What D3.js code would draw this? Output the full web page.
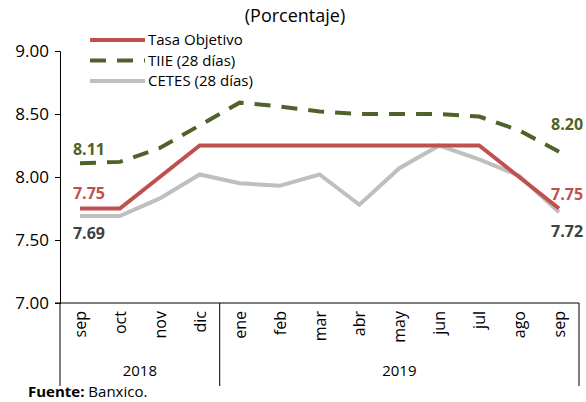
<!DOCTYPE html>
<html>
<head>
<meta charset="utf-8">
<script src="https://cdn.jsdelivr.net/npm/d3@7"></script>
<style>
  body { margin: 0; background: #fff; }
  text { font-family: "Open Sans", "Liberation Sans", Arial, sans-serif; }
</style>
</head>
<body>
<div id="chart"></div>
<script>
var months = ["sep","oct","nov","dic","ene","feb","mar","abr","may","jun","jul","ago","sep"];
var years = [{label: "2018", from: 0, to: 4}, {label: "2019", from: 4, to: 13}];
var tasaObjetivo = [7.75,7.75,8.00,8.25,8.25,8.25,8.25,8.25,8.25,8.25,8.25,8.00,7.75];
var tiie = [8.11,8.12,8.23,8.41,8.59,8.56,8.52,8.50,8.50,8.50,8.48,8.37,8.20];
var cetes = [7.69,7.69,7.83,8.02,7.95,7.93,8.02,7.78,8.07,8.25,8.14,8.01,7.72];
var yTicks = [7.00,7.50,8.00,8.50,9.00];

var width = 586, height = 402;
var svg = d3.select("#chart").append("svg")
  .attr("width", width).attr("height", height);

var x = d3.scaleBand().domain(d3.range(months.length)).range([60, 579]);
var y = d3.scaleLinear().domain([7, 9]).range([303, 51]);
var cx = function(i) { return x(i) + x.bandwidth() / 2; };

// title
svg.append("text").attr("x", 295).attr("y", 22).attr("text-anchor", "middle")
  .style("font-size", "18px").text("(Porcentaje)");

// y axis
var yAxis = svg.append("g").attr("transform", "translate(60,0)")
  .call(d3.axisLeft(y).tickValues(yTicks).tickFormat(d3.format(".2f")).tickSize(5));
yAxis.select(".domain").attr("stroke", "#000");
yAxis.selectAll("text").style("font-size", "17px").attr("fill", "#000")
  .attr("font-family", "Open Sans, Liberation Sans, Arial, sans-serif").attr("x", -11);

// x axis line
svg.append("line").attr("x1", 55).attr("x2", 579).attr("y1", y(7)).attr("y2", y(7))
  .attr("stroke", "#000");

// year separators
var seps = [0, 4, 13];
svg.selectAll(".sep").data(seps).enter().append("line")
  .attr("x1", function(d) { return x.range()[0] + d * x.step(); })
  .attr("x2", function(d) { return x.range()[0] + d * x.step(); })
  .attr("y1", y(7)).attr("y2", 386)
  .attr("stroke", "#000");

// month labels
svg.selectAll(".month").data(months).enter().append("text")
  .attr("transform", function(d, i) { return "translate(" + (cx(i) + 6) + ",311) rotate(-90)"; })
  .attr("text-anchor", "end")
  .style("font-size", "16px").text(function(d) { return d; });

// year labels
svg.selectAll(".year").data(years).enter().append("text")
  .attr("x", function(d) { return x.range()[0] + (d.from + d.to) / 2 * x.step(); })
  .attr("y", 376).attr("text-anchor", "middle")
  .style("font-size", "15px").text(function(d) { return d.label; });

// source
var src = svg.append("text").attr("x", 28).attr("y", 397).style("font-size", "15px");
src.append("tspan").attr("font-weight", "bold").text("Fuente:");
src.append("tspan").text(" Banxico.");

var line = d3.line().x(function(d, i) { return cx(i); }).y(function(d) { return y(d); });

svg.append("path").datum(cetes).attr("d", line).attr("fill", "none")
  .attr("stroke", "#BFBFBF").attr("stroke-width", 4);
svg.append("path").datum(tasaObjetivo).attr("d", line).attr("fill", "none")
  .attr("stroke", "#C0504D").attr("stroke-width", 4);
svg.append("path").datum(tiie).attr("d", line).attr("fill", "none")
  .attr("stroke", "#4F6228").attr("stroke-width", 4)
  .attr("stroke-dasharray", "16,11");

// value labels
var last = months.length - 1;
var labels = [
  {v: tiie[0], i: 0, dy: -8, color: "#4F6228"},
  {v: tasaObjetivo[0], i: 0, dy: -10, color: "#C0504D"},
  {v: cetes[0], i: 0, dy: 23, color: "#404040"},
  {v: tiie[last], i: last, dy: -22, color: "#4F6228"},
  {v: tasaObjetivo[last], i: last, dy: -9, color: "#C0504D"},
  {v: cetes[last], i: last, dy: 25, color: "#404040"}
];
svg.selectAll(".vl").data(labels).enter().append("text")
  .attr("x", function(d) { return cx(d.i) + (d.i === 0 ? 9 : 8); })
  .attr("y", function(d) { return y(d.v) + d.dy; })
  .attr("text-anchor", "middle")
  .attr("font-weight", "bold").style("font-size", "16px")
  .attr("fill", function(d) { return d.color; })
  .text(function(d) { return d.v.toFixed(2); });

// legend
var legend = svg.append("g").attr("transform", "translate(90,40)");
var legendItems = [
  {name: "Tasa Objetivo", color: "#C0504D", dash: null},
  {name: "TIIE (28 días)", color: "#4F6228", dash: "16,11"},
  {name: "CETES (28 días)", color: "#BFBFBF", dash: null}
];
legendItems.forEach(function(d, i) {
  legend.append("line").attr("x1", 0).attr("x2", 55).attr("y1", i * 20.5).attr("y2", i * 20.5)
    .attr("stroke", d.color).attr("stroke-width", 4).attr("stroke-dasharray", d.dash);
  legend.append("text").attr("x", 58).attr("y", i * 20.5 + 5)
    .style("font-size", "15px").text(d.name);
});
</script>
</body>
</html>
